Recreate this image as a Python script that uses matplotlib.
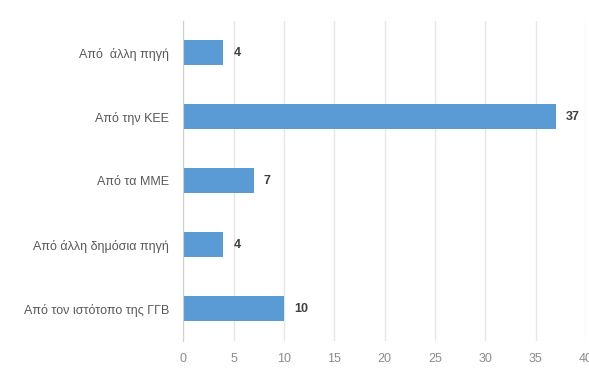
import matplotlib.pyplot as plt

# categories from top to bottom as in the chart
categories = ["Από  άλλη πηγή", "Από την ΚΕΕ", "Από τα ΜΜΕ",
              "Από άλλη δημόσια πηγή", "Από τον ιστότοπο της ΓΓΒ"]
values = [4, 37, 7, 4, 10]
xticks = [0, 5, 10, 15, 20, 25, 30, 35, 40]

plt.rcParams['font.family'] = ['Liberation Sans', 'DejaVu Sans']

fig = plt.figure(figsize=(5.89, 3.73), dpi=100)
ax = fig.add_axes([0.311, 0.086, 0.684, 0.858])

pos = list(range(len(categories)))[::-1]
ax.barh(pos, values, height=0.39, color='#5B9BD5', zorder=2)

for p, v in zip(pos, values):
    ax.text(v + 1.0, p, str(v), va='center', ha='left', fontsize=9,
            fontweight='bold', color='#404040')

ax.set_yticks(pos)
ax.set_yticklabels(categories, fontsize=9, color='#595959')
ax.set_xticks(xticks)
ax.set_xticklabels([str(t) for t in xticks], fontsize=9, color='#8c8c8c')
ax.set_xlim(0, 40)
ax.set_ylim(-0.5, 4.5)

ax.grid(axis='x', color='#e6e6e6', linewidth=1, zorder=0)
for s in ['top', 'right', 'bottom']:
    ax.spines[s].set_visible(False)
ax.spines['left'].set_color('#d0d0d0')
ax.tick_params(axis='both', length=0)
ax.tick_params(axis='y', pad=10)
ax.tick_params(axis='x', pad=9)

fig.savefig('out.png', dpi=100)
